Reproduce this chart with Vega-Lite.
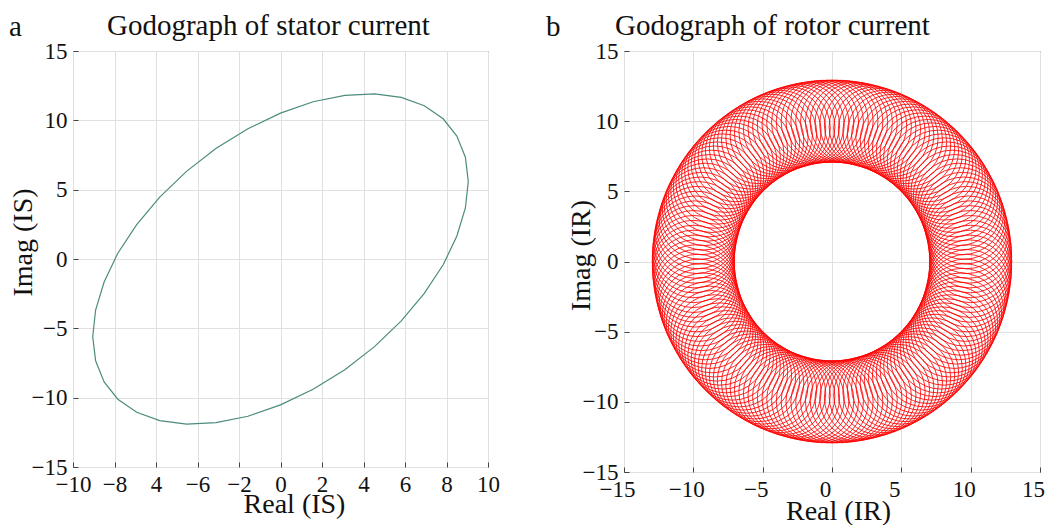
{
  "$schema": "https://vega.github.io/schema/vega-lite/v6.json",
  "padding": {"left": 8, "top": 11, "right": 8, "bottom": 1},
  "background": "white",
  "spacing": 46,
  "config": {
    "font": "Liberation Serif",
    "view": {"stroke": "#3a3a3a", "strokeWidth": 1},
    "axis": {
      "labelFont": "Liberation Serif",
      "labelFontSize": 23,
      "labelColor": "#111111",
      "labelFlush": false,
      "labelOverlap": false,
      "labelPadding": 11,
      "titleFont": "Liberation Serif",
      "titleFontSize": 28,
      "titleFontWeight": "normal",
      "titleColor": "#111111",
      "gridColor": "#e0e0e0",
      "gridWidth": 1,
      "domain": false,
      "ticks": true,
      "tickSize": -5,
      "tickColor": "#444444"
    },
    "title": {"font": "Liberation Serif", "fontSize": 29, "fontWeight": "normal", "color": "#111111"}
  },
  "hconcat": [
    {
      "title": {"text": "a", "anchor": "start", "frame": "group", "dx": -64, "dy": 53, "offset": 0, "baseline": "alphabetic"},
      "vconcat": [
        {
          "title": {"text": "Godograph of stator current", "anchor": "start", "frame": "group", "dx": 34, "offset": -24, "baseline": "alphabetic"},
          "width": 415,
          "height": 416,
          "data": {"values": [
            {"t":0,"re":9.05,"im":5.6},{"t":10,"re":8.91,"im":7.34},{"t":20,"re":8.5,"im":8.86},{"t":30,"re":7.84,"im":10.11},
            {"t":40,"re":6.93,"im":11.05},{"t":50,"re":5.82,"im":11.66},{"t":60,"re":4.53,"im":11.91},{"t":70,"re":3.1,"im":11.8},
            {"t":80,"re":1.57,"im":11.34},{"t":90,"re":0,"im":10.52},{"t":100,"re":-1.57,"im":9.39},{"t":110,"re":-3.1,"im":7.98},
            {"t":120,"re":-4.53,"im":6.32},{"t":130,"re":-5.82,"im":4.46},{"t":140,"re":-6.93,"im":2.48},{"t":150,"re":-7.84,"im":0.42},
            {"t":160,"re":-8.5,"im":-1.66},{"t":170,"re":-8.91,"im":-3.68},{"t":180,"re":-9.05,"im":-5.6},{"t":190,"re":-8.91,"im":-7.34},
            {"t":200,"re":-8.5,"im":-8.86},{"t":210,"re":-7.84,"im":-10.11},{"t":220,"re":-6.93,"im":-11.05},{"t":230,"re":-5.82,"im":-11.66},
            {"t":240,"re":-4.53,"im":-11.91},{"t":250,"re":-3.1,"im":-11.8},{"t":260,"re":-1.57,"im":-11.34},{"t":270,"re":0,"im":-10.52},
            {"t":280,"re":1.57,"im":-9.39},{"t":290,"re":3.1,"im":-7.98},{"t":300,"re":4.53,"im":-6.32},{"t":310,"re":5.82,"im":-4.46},
            {"t":320,"re":6.93,"im":-2.48},{"t":330,"re":7.84,"im":-0.42},{"t":340,"re":8.5,"im":1.66},{"t":350,"re":8.91,"im":3.68},
            {"t":360,"re":9.05,"im":5.6}
          ]},
          "mark": {"type": "line", "color": "#4d8b7e", "strokeWidth": 1.2},
          "encoding": {
            "x": {
              "field": "re", "type": "quantitative",
              "scale": {"domain": [-10, 10], "nice": false, "zero": false},
              "axis": {
                "values": [-10, -8, -6, -4, -2, 0, 2, 4, 6, 8, 10],
                "labelExpr": "datum.value == -6 ? '4' : datum.value == -4 ? '\u22126' : datum.label",
                "title": "Real (IS)", "titleX": 221, "titleY": 45, "titleBaseline": "alphabetic", "titleAlign": "center"
              }
            },
            "y": {
              "field": "im", "type": "quantitative",
              "scale": {"domain": [-15, 15], "nice": false, "zero": false},
              "axis": {
                "values": [-15, -10, -5, 0, 5, 10, 15],
                "title": "Imag (IS)", "titleX": -50, "titleY": 191, "titleBaseline": "middle", "titleAlign": "center", "titleAngle": -90
              }
            },
            "order": {"field": "t", "type": "quantitative"}
          }
        }
      ]
    },
    {
      "title": {"text": "b", "anchor": "start", "frame": "group", "dx": -78, "dy": 53, "offset": 0, "baseline": "alphabetic"},
      "vconcat": [
        {
          "title": {"text": "Godograph of rotor current", "anchor": "start", "frame": "group", "dx": -9, "offset": -24, "baseline": "alphabetic"},
          "width": 416,
          "height": 421,
          "data": {"values": [
            {"re":10,"im":0},{"re":9.99,"im":0.35},{"re":9.98,"im":0.7},{"re":9.95,"im":1.05},{"re":9.9,"im":1.39},{"re":9.85,"im":1.74},
            {"re":9.78,"im":2.08},{"re":9.7,"im":2.42},{"re":9.61,"im":2.76},{"re":9.51,"im":3.09},{"re":9.4,"im":3.42},{"re":9.27,"im":3.75},
            {"re":9.14,"im":4.07},{"re":8.99,"im":4.38},{"re":8.83,"im":4.69},{"re":8.66,"im":5},{"re":8.48,"im":5.3},{"re":8.29,"im":5.59},
            {"re":8.09,"im":5.88},{"re":7.88,"im":6.16},{"re":7.66,"im":6.43},{"re":7.43,"im":6.69},{"re":7.19,"im":6.95},{"re":6.95,"im":7.19},
            {"re":6.69,"im":7.43},{"re":6.43,"im":7.66},{"re":6.16,"im":7.88},{"re":5.88,"im":8.09},{"re":5.59,"im":8.29},{"re":5.3,"im":8.48},
            {"re":5,"im":8.66},{"re":4.69,"im":8.83},{"re":4.38,"im":8.99},{"re":4.07,"im":9.14},{"re":3.75,"im":9.27},{"re":3.42,"im":9.4},
            {"re":3.09,"im":9.51},{"re":2.76,"im":9.61},{"re":2.42,"im":9.7},{"re":2.08,"im":9.78},{"re":1.74,"im":9.85},{"re":1.39,"im":9.9},
            {"re":1.05,"im":9.95},{"re":0.7,"im":9.98},{"re":0.35,"im":9.99},
            {"re":0,"im":10},{"re":-0.35,"im":9.99},{"re":-0.7,"im":9.98},{"re":-1.05,"im":9.95},{"re":-1.39,"im":9.9},{"re":-1.74,"im":9.85},
            {"re":-2.08,"im":9.78},{"re":-2.42,"im":9.7},{"re":-2.76,"im":9.61},{"re":-3.09,"im":9.51},{"re":-3.42,"im":9.4},{"re":-3.75,"im":9.27},
            {"re":-4.07,"im":9.14},{"re":-4.38,"im":8.99},{"re":-4.69,"im":8.83},{"re":-5,"im":8.66},{"re":-5.3,"im":8.48},{"re":-5.59,"im":8.29},
            {"re":-5.88,"im":8.09},{"re":-6.16,"im":7.88},{"re":-6.43,"im":7.66},{"re":-6.69,"im":7.43},{"re":-6.95,"im":7.19},{"re":-7.19,"im":6.95},
            {"re":-7.43,"im":6.69},{"re":-7.66,"im":6.43},{"re":-7.88,"im":6.16},{"re":-8.09,"im":5.88},{"re":-8.29,"im":5.59},{"re":-8.48,"im":5.3},
            {"re":-8.66,"im":5},{"re":-8.83,"im":4.69},{"re":-8.99,"im":4.38},{"re":-9.14,"im":4.07},{"re":-9.27,"im":3.75},{"re":-9.4,"im":3.42},
            {"re":-9.51,"im":3.09},{"re":-9.61,"im":2.76},{"re":-9.7,"im":2.42},{"re":-9.78,"im":2.08},{"re":-9.85,"im":1.74},{"re":-9.9,"im":1.39},
            {"re":-9.95,"im":1.05},{"re":-9.98,"im":0.7},{"re":-9.99,"im":0.35},
            {"re":-10,"im":0},{"re":-9.99,"im":-0.35},{"re":-9.98,"im":-0.7},{"re":-9.95,"im":-1.05},{"re":-9.9,"im":-1.39},{"re":-9.85,"im":-1.74},
            {"re":-9.78,"im":-2.08},{"re":-9.7,"im":-2.42},{"re":-9.61,"im":-2.76},{"re":-9.51,"im":-3.09},{"re":-9.4,"im":-3.42},{"re":-9.27,"im":-3.75},
            {"re":-9.14,"im":-4.07},{"re":-8.99,"im":-4.38},{"re":-8.83,"im":-4.69},{"re":-8.66,"im":-5},{"re":-8.48,"im":-5.3},{"re":-8.29,"im":-5.59},
            {"re":-8.09,"im":-5.88},{"re":-7.88,"im":-6.16},{"re":-7.66,"im":-6.43},{"re":-7.43,"im":-6.69},{"re":-7.19,"im":-6.95},{"re":-6.95,"im":-7.19},
            {"re":-6.69,"im":-7.43},{"re":-6.43,"im":-7.66},{"re":-6.16,"im":-7.88},{"re":-5.88,"im":-8.09},{"re":-5.59,"im":-8.29},{"re":-5.3,"im":-8.48},
            {"re":-5,"im":-8.66},{"re":-4.69,"im":-8.83},{"re":-4.38,"im":-8.99},{"re":-4.07,"im":-9.14},{"re":-3.75,"im":-9.27},{"re":-3.42,"im":-9.4},
            {"re":-3.09,"im":-9.51},{"re":-2.76,"im":-9.61},{"re":-2.42,"im":-9.7},{"re":-2.08,"im":-9.78},{"re":-1.74,"im":-9.85},{"re":-1.39,"im":-9.9},
            {"re":-1.05,"im":-9.95},{"re":-0.7,"im":-9.98},{"re":-0.35,"im":-9.99},
            {"re":0,"im":-10},{"re":0.35,"im":-9.99},{"re":0.7,"im":-9.98},{"re":1.05,"im":-9.95},{"re":1.39,"im":-9.9},{"re":1.74,"im":-9.85},
            {"re":2.08,"im":-9.78},{"re":2.42,"im":-9.7},{"re":2.76,"im":-9.61},{"re":3.09,"im":-9.51},{"re":3.42,"im":-9.4},{"re":3.75,"im":-9.27},
            {"re":4.07,"im":-9.14},{"re":4.38,"im":-8.99},{"re":4.69,"im":-8.83},{"re":5,"im":-8.66},{"re":5.3,"im":-8.48},{"re":5.59,"im":-8.29},
            {"re":5.88,"im":-8.09},{"re":6.16,"im":-7.88},{"re":6.43,"im":-7.66},{"re":6.69,"im":-7.43},{"re":6.95,"im":-7.19},{"re":7.19,"im":-6.95},
            {"re":7.43,"im":-6.69},{"re":7.66,"im":-6.43},{"re":7.88,"im":-6.16},{"re":8.09,"im":-5.88},{"re":8.29,"im":-5.59},{"re":8.48,"im":-5.3},
            {"re":8.66,"im":-5},{"re":8.83,"im":-4.69},{"re":8.99,"im":-4.38},{"re":9.14,"im":-4.07},{"re":9.27,"im":-3.75},{"re":9.4,"im":-3.42},
            {"re":9.51,"im":-3.09},{"re":9.61,"im":-2.76},{"re":9.7,"im":-2.42},{"re":9.78,"im":-2.08},{"re":9.85,"im":-1.74},{"re":9.9,"im":-1.39},
            {"re":9.95,"im":-1.05},{"re":9.98,"im":-0.7},{"re":9.99,"im":-0.35}
          ]},
          "mark": {"type": "point", "shape": "circle", "filled": false, "size": 6774, "strokeWidth": 0.85, "color": "#ff0000", "opacity": 1},
          "encoding": {
            "x": {
              "field": "re", "type": "quantitative",
              "scale": {"domain": [-15, 15], "nice": false, "zero": false},
              "axis": {
                "values": [-15, -10, -5, 0, 5, 10, 15],
                "labelOffset": -7,
                "title": "Real (IR)", "titleX": 214, "titleY": 47, "titleBaseline": "alphabetic", "titleAlign": "center"
              }
            },
            "y": {
              "field": "im", "type": "quantitative",
              "scale": {"domain": [-15, 15], "nice": false, "zero": false},
              "axis": {
                "values": [-15, -10, -5, 0, 5, 10, 15],
                "title": "Imag (IR)", "titleX": -43, "titleY": 204, "titleBaseline": "middle", "titleAlign": "center", "titleAngle": -90
              }
            }
          }
        }
      ]
    }
  ]
}
